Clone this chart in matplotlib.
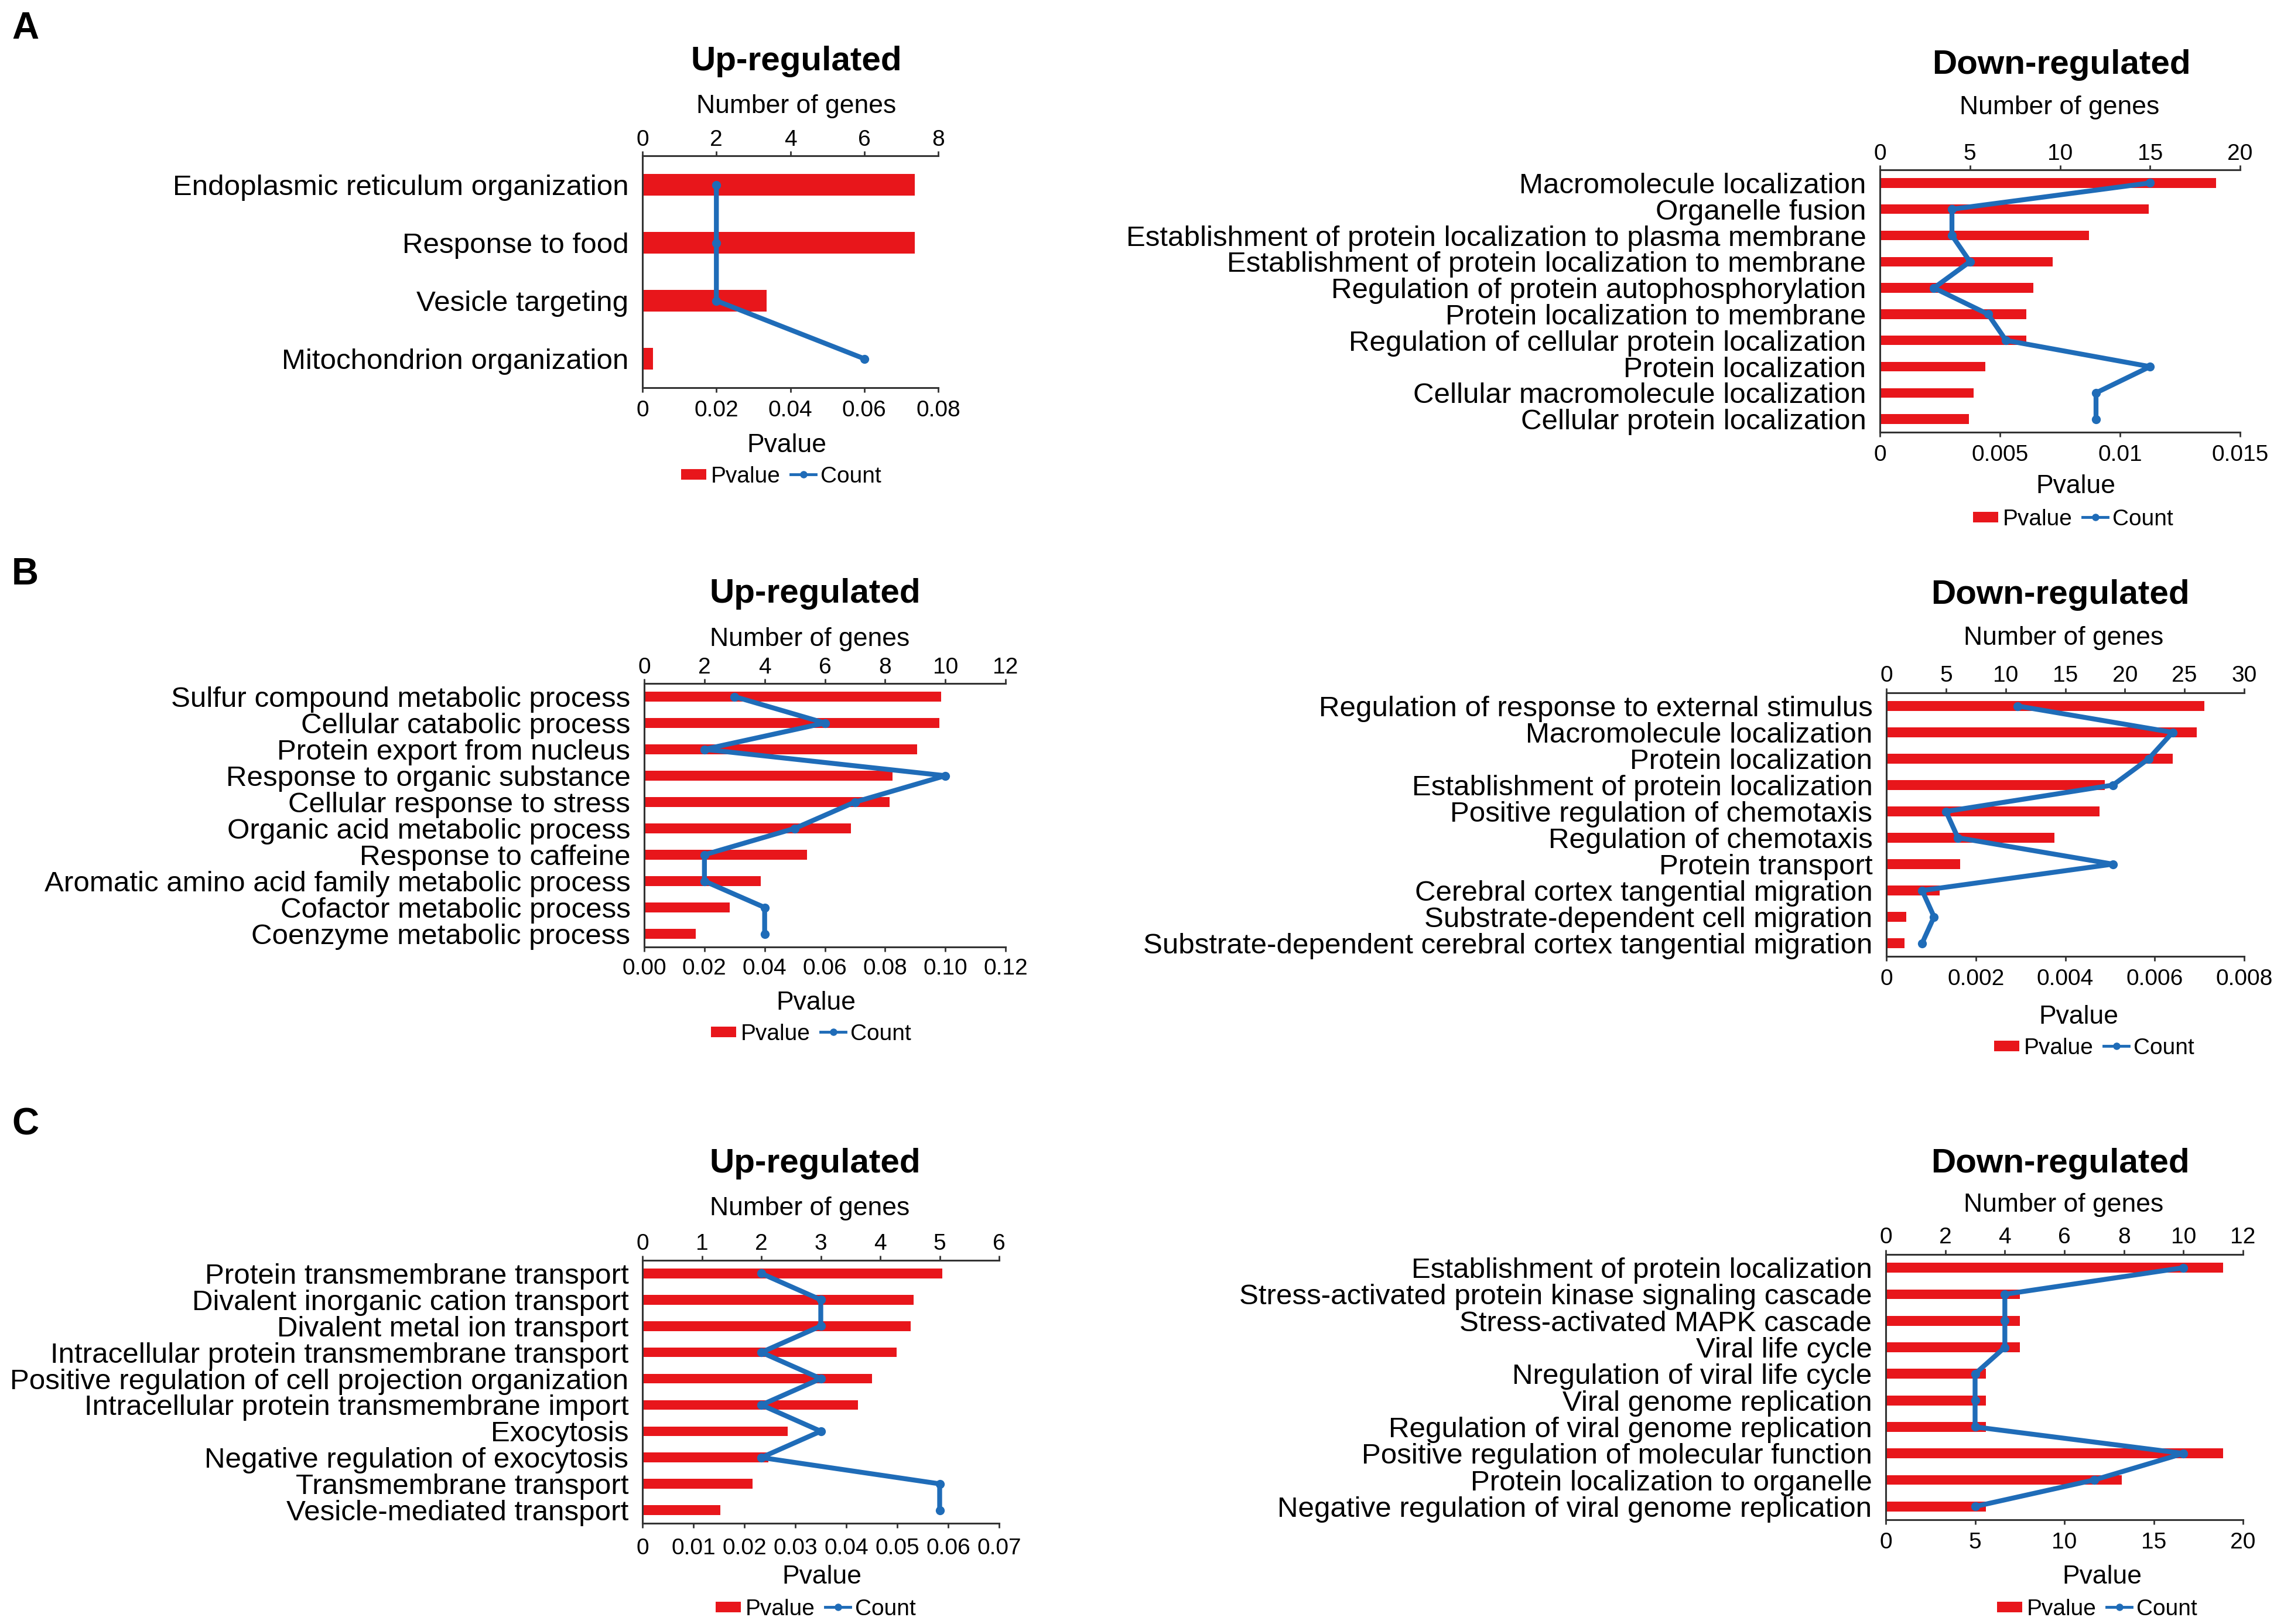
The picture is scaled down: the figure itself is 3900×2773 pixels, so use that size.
import matplotlib
matplotlib.use('Agg')
import matplotlib.pyplot as plt
from matplotlib.lines import Line2D
import numpy as np

plt.rcParams['font.family'] = ['Liberation Sans', 'DejaVu Sans']

W, H = 3900, 2773
DPI = 100
fig = plt.figure(figsize=(W / DPI, H / DPI), dpi=DPI)

RED = '#E8161B'
BLUE = '#1F6CB8'
AXC = '#333333'

# ---------------- data ----------------
a_up_terms = ['Endoplasmic reticulum organization', 'Response to food',
              'Vesicle targeting', 'Mitochondrion organization']
a_up_pvalue = [0.0737, 0.0737, 0.0336, 0.0028]
a_up_count = [2, 2, 2, 6]

a_down_terms = ['Macromolecule localization', 'Organelle fusion',
                'Establishment of protein localization to plasma membrane',
                'Establishment of protein localization to membrane',
                'Regulation of protein autophosphorylation',
                'Protein localization to membrane',
                'Regulation of cellular protein localization',
                'Protein localization', 'Cellular macromolecule localization',
                'Cellular protein localization']
a_down_pvalue = [0.0140, 0.0112, 0.0087, 0.0072, 0.0064, 0.0061, 0.0061, 0.0044, 0.0039, 0.0037]
a_down_count = [15, 4, 4, 5, 3, 6, 7, 15, 12, 12]

b_up_terms = ['Sulfur compound metabolic process', 'Cellular catabolic process',
              'Protein export from nucleus', 'Response to organic substance',
              'Cellular response to stress', 'Organic acid metabolic process',
              'Response to caffeine', 'Aromatic amino acid family metabolic process',
              'Cofactor metabolic process', 'Coenzyme metabolic process']
b_up_pvalue = [0.0987, 0.0980, 0.0906, 0.0824, 0.0815, 0.0686, 0.0541, 0.0387, 0.0283, 0.0172]
b_up_count = [3, 6, 2, 10, 7, 5, 2, 2, 4, 4]

b_down_terms = ['Regulation of response to external stimulus', 'Macromolecule localization',
                'Protein localization', 'Establishment of protein localization',
                'Positive regulation of chemotaxis', 'Regulation of chemotaxis',
                'Protein transport', 'Cerebral cortex tangential migration',
                'Substrate-dependent cell migration',
                'Substrate-dependent cerebral cortex tangential migration']
b_down_pvalue = [0.00711, 0.00694, 0.00640, 0.00489, 0.00476, 0.00376, 0.00165, 0.00119, 0.00045, 0.00040]
b_down_count = [11, 24, 22, 19, 5, 6, 19, 3, 4, 3]

c_up_terms = ['Protein transmembrane transport', 'Divalent inorganic cation transport',
              'Divalent metal ion transport', 'Intracellular protein transmembrane transport',
              'Positive regulation of cell projection organization',
              'Intracellular protein transmembrane import', 'Exocytosis',
              'Negative regulation of exocytosis', 'Transmembrane transport',
              'Vesicle-mediated transport']
c_up_pvalue = [0.0589, 0.0532, 0.0527, 0.0499, 0.0450, 0.0423, 0.0285, 0.0247, 0.0216, 0.0153]
c_up_count = [2, 3, 3, 2, 3, 2, 3, 2, 5, 5]

c_down_terms = ['Establishment of protein localization',
                'Stress-activated protein kinase signaling cascade',
                'Stress-activated MAPK cascade', 'Viral life cycle',
                'Nregulation of viral life cycle', 'Viral genome replication',
                'Regulation of viral genome replication',
                'Positive regulation of molecular function',
                'Protein localization to organelle',
                'Negative regulation of viral genome replication']
c_down_pvalue = [18.9, 7.5, 7.5, 7.5, 5.6, 5.6, 5.6, 18.9, 13.2, 5.6]
c_down_count = [10, 4, 4, 4, 3, 3, 3, 10, 7, 3]

a_up_pticks = ['0', '0.02', '0.04', '0.06', '0.08']
a_up_cticks = ['0', '2', '4', '6', '8']
a_down_pticks = ['0', '0.005', '0.01', '0.015']
a_down_cticks = ['0', '5', '10', '15', '20']
b_up_pticks = ['0.00', '0.02', '0.04', '0.06', '0.08', '0.10', '0.12']
b_up_cticks = ['0', '2', '4', '6', '8', '10', '12']
b_down_pticks = ['0', '0.002', '0.004', '0.006', '0.008']
b_down_cticks = ['0', '5', '10', '15', '20', '25', '30']
c_up_pticks = ['0', '0.01', '0.02', '0.03', '0.04', '0.05', '0.06', '0.07']
c_up_cticks = ['0', '1', '2', '3', '4', '5', '6']
c_down_pticks = ['0', '5', '10', '15', '20']
c_down_cticks = ['0', '2', '4', '6', '8', '10', '12']


def ftext(x, y, s, **kw):
    fig.text(x / W, 1 - y / H, s, ha='center', va='center', **kw)


def panel(rect, terms, pvals, counts, pticks, cticks, title, title_xy, nog_xy,
          pv_xy, leg_xy, top_pad, bot_pad):
    L, T, R, B = rect
    ax = fig.add_axes([L / W, 1 - B / H, (R - L) / W, (B - T) / H])
    y = np.arange(len(terms))
    ax.barh(y, pvals, height=0.37, color=RED, zorder=2)
    ax.set_ylim(len(terms) - 0.5, -0.5)
    pt = [float(t) for t in pticks]
    ax.set_xlim(pt[0], pt[-1])
    ax.set_xticks(pt)
    ax.set_xticklabels(pticks)
    ax.set_yticks(y)
    ax.set_yticklabels(terms, fontsize=35.5)
    ax.tick_params(axis='y', length=0, pad=17)
    ax.tick_params(axis='x', direction='out', length=5.8, width=2, color=AXC,
                   labelsize=28, pad=bot_pad)
    for s in ['right', 'top']:
        ax.spines[s].set_visible(False)
    for s in ['left', 'bottom']:
        ax.spines[s].set_linewidth(2.2)
        ax.spines[s].set_color(AXC)
    ax.set_facecolor('none')

    ax2 = ax.twiny()
    ax2.plot(counts, y, color=BLUE, lw=6, marker='o', ms=10, zorder=3, clip_on=False)
    ct = [float(t) for t in cticks]
    ax2.set_xlim(ct[0], ct[-1])
    ax2.set_xticks(ct)
    ax2.set_xticklabels(cticks)
    ax2.tick_params(axis='x', direction='out', length=5.8, width=2, color=AXC,
                    labelsize=28, pad=top_pad)
    for s in ['right', 'left', 'bottom']:
        ax2.spines[s].set_visible(False)
    ax2.spines['top'].set_linewidth(2.2)
    ax2.spines['top'].set_color(AXC)
    ax2.set_ylim(len(terms) - 0.5, -0.5)

    ftext(*title_xy, title, fontsize=42, fontweight='bold')
    ftext(*nog_xy, 'Number of genes', fontsize=32)
    ftext(*pv_xy, 'Pvalue', fontsize=32)
    handles = [Line2D([], [], color=RED, lw=13, solid_capstyle='butt'),
               Line2D([], [], color=BLUE, lw=3.5, marker='o', ms=8)]
    fig.legend(handles, ['Pvalue', 'Count'], loc='center',
               bbox_to_anchor=(leg_xy[0] / W, 1 - leg_xy[1] / H), ncol=2,
               frameon=False, fontsize=28, handlelength=1.1, handletextpad=0.2,
               columnspacing=0.45, borderaxespad=0, borderpad=0)


panel((1097, 266, 1602, 662), a_up_terms, a_up_pvalue, a_up_count,
      a_up_pticks, a_up_cticks, 'Up-regulated', (1360, 105), (1360, 181),
      (1343, 760), (1334, 814), 1, 9)
panel((3210, 290, 3825, 738), a_down_terms, a_down_pvalue, a_down_count,
      a_down_pticks, a_down_cticks, 'Down-regulated', (3520, 111), (3517, 183),
      (3544, 831), (3540, 887), 0.5, 9)
panel((1100, 1167, 1717, 1617), b_up_terms, b_up_pvalue, b_up_count,
      b_up_pticks, b_up_cticks, 'Up-regulated', (1392, 1014), (1383, 1091),
      (1393, 1713), (1385, 1766), 0.5, 8)
panel((3221, 1183, 3832, 1633), b_down_terms, b_down_pvalue, b_down_count,
      b_down_pticks, b_down_cticks, 'Down-regulated', (3518, 1016), (3524, 1090),
      (3549, 1737), (3576, 1790), 2, 9)
panel((1097, 2152, 1706, 2601), c_up_terms, c_up_pvalue, c_up_count,
      c_up_pticks, c_up_cticks, 'Up-regulated', (1392, 1987), (1383, 2063),
      (1403, 2693), (1393, 2748), 1.5, 12)
panel((3220, 2142, 3830, 2595), c_down_terms, c_down_pvalue, c_down_count,
      c_down_pticks, c_down_cticks, 'Down-regulated', (3518, 1987), (3524, 2057),
      (3589, 2693), (3581, 2748), 2, 9)

for letter, (x, y) in {'A': (43, 49), 'B': (43, 981), 'C': (43, 1920)}.items():
    ftext(x, y, letter, fontsize=46, fontweight='bold')

fig.savefig('out.png', dpi=DPI, facecolor='white')
